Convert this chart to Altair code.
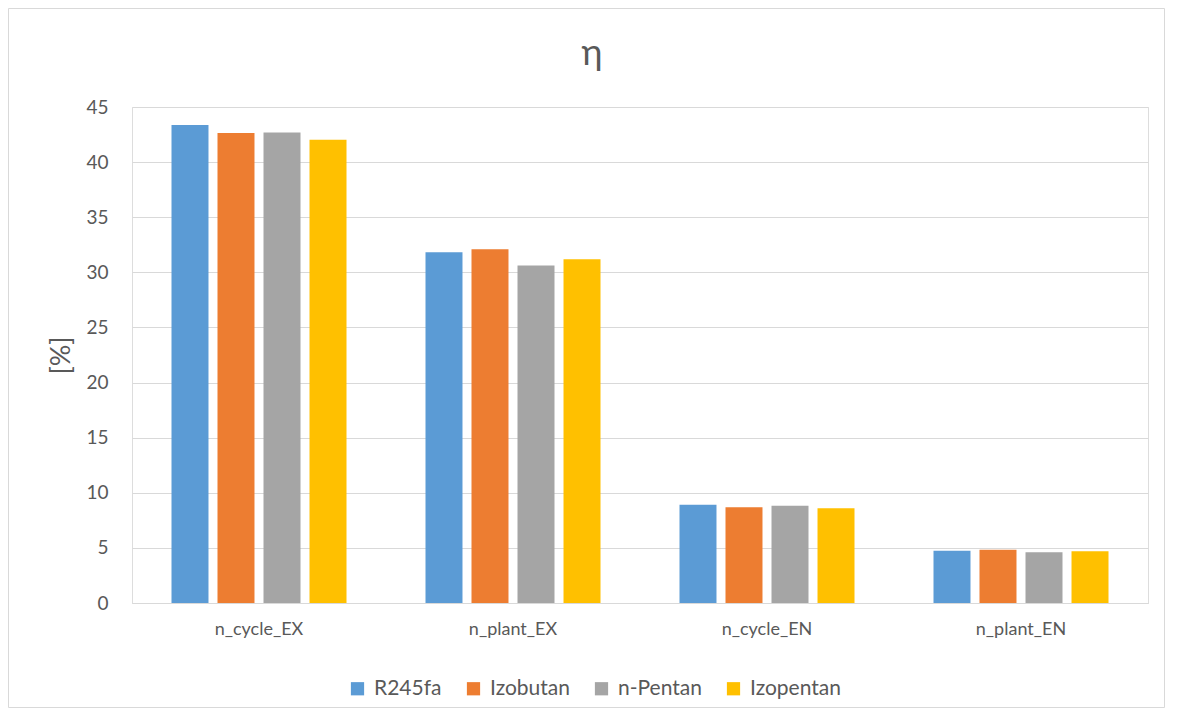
import altair as alt
import pandas as pd

categories = ["n_cycle_EX", "n_plant_EX", "n_cycle_EN", "n_plant_EN"]
series_names = ["R245fa", "Izobutan", "n-Pentan", "Izopentan"]
r245fa = [43.37, 31.82, 8.92, 4.75]
izobutan = [42.65, 32.09, 8.68, 4.84]
n_pentan = [42.68, 30.61, 8.83, 4.60]
izopentan = [42.04, 31.19, 8.59, 4.69]
colors = ["#5B9BD5", "#ED7D31", "#A5A5A5", "#FFC000"]
chart_title = "η"

rows = []
for name, vals in zip(series_names, [r245fa, izobutan, n_pentan, izopentan]):
    for cat, v in zip(categories, vals):
        rows.append({"category": cat, "series": name, "value": v})
df = pd.DataFrame(rows)

FONT = "Lato"
TXT = "#595959"
W, H = 1016, 496
PL, PT = 124, 99

bars = alt.Chart(df).mark_bar().encode(
    x=alt.X("category:N", sort=categories, title=None,
            scale=alt.Scale(paddingInner=0.311, paddingOuter=0.1555),
            axis=alt.Axis(labelAngle=0, labelFont=FONT, labelFontSize=18, labelColor=TXT,
                          labelPadding=17, ticks=False, domainColor="#d9d9d9", domainWidth=1)),
    xOffset=alt.XOffset("series:N", sort=series_names,
                        scale=alt.Scale(paddingInner=0.196, paddingOuter=0)),
    y=alt.Y("value:Q", title="[%]",
            scale=alt.Scale(domain=[0, 45], nice=False),
            axis=alt.Axis(values=list(range(0, 46, 5)), labelFont=FONT, labelFontSize=19,
                          labelColor=TXT, labelPadding=24, ticks=False, domain=False,
                          gridColor="#d9d9d9", gridWidth=1, titleFont=FONT,
                          titleFontSize=27, titleFontWeight="normal", titleColor=TXT,
                          titlePadding=10)),
    color=alt.Color("series:N", sort=series_names,
                    scale=alt.Scale(domain=series_names, range=colors),
                    legend=alt.Legend(title=None, orient="none", direction="horizontal",
                                      legendX=215, legendY=571, symbolType="square",
                                      symbolSize=175, symbolStrokeWidth=0,
                                      labelFont=FONT, labelFontSize=21, labelColor=TXT,
                                      columnPadding=21, labelOffset=6)),
)

one = pd.DataFrame({"a": [0]})
border = alt.Chart(one).mark_rect(
    fill=None, stroke="#d9d9d9", strokeWidth=1, clip=False
).encode(
    x=alt.value(-PL + 0.5), x2=alt.value(W + 16.5),
    y=alt.value(-PT + 0.5), y2=alt.value(H + 104.5),
)

title = alt.Chart(one).mark_text(
    text=chart_title, font=FONT, fontSize=36, color=TXT, align="center", baseline="alphabetic"
).encode(
    x=alt.value(592 - 8 - PL), y=alt.value(65 - 8 - PT),
)

chart = alt.layer(border, bars, title).properties(
    width=W, height=H,
    autosize=alt.AutoSizeParams(type="none"),
    padding={"left": PL, "top": PT, "right": 17, "bottom": 105},
).configure_view(stroke=None).configure(background="white")

chart.save("out.html", embed_options={"renderer": "svg", "actions": False})
